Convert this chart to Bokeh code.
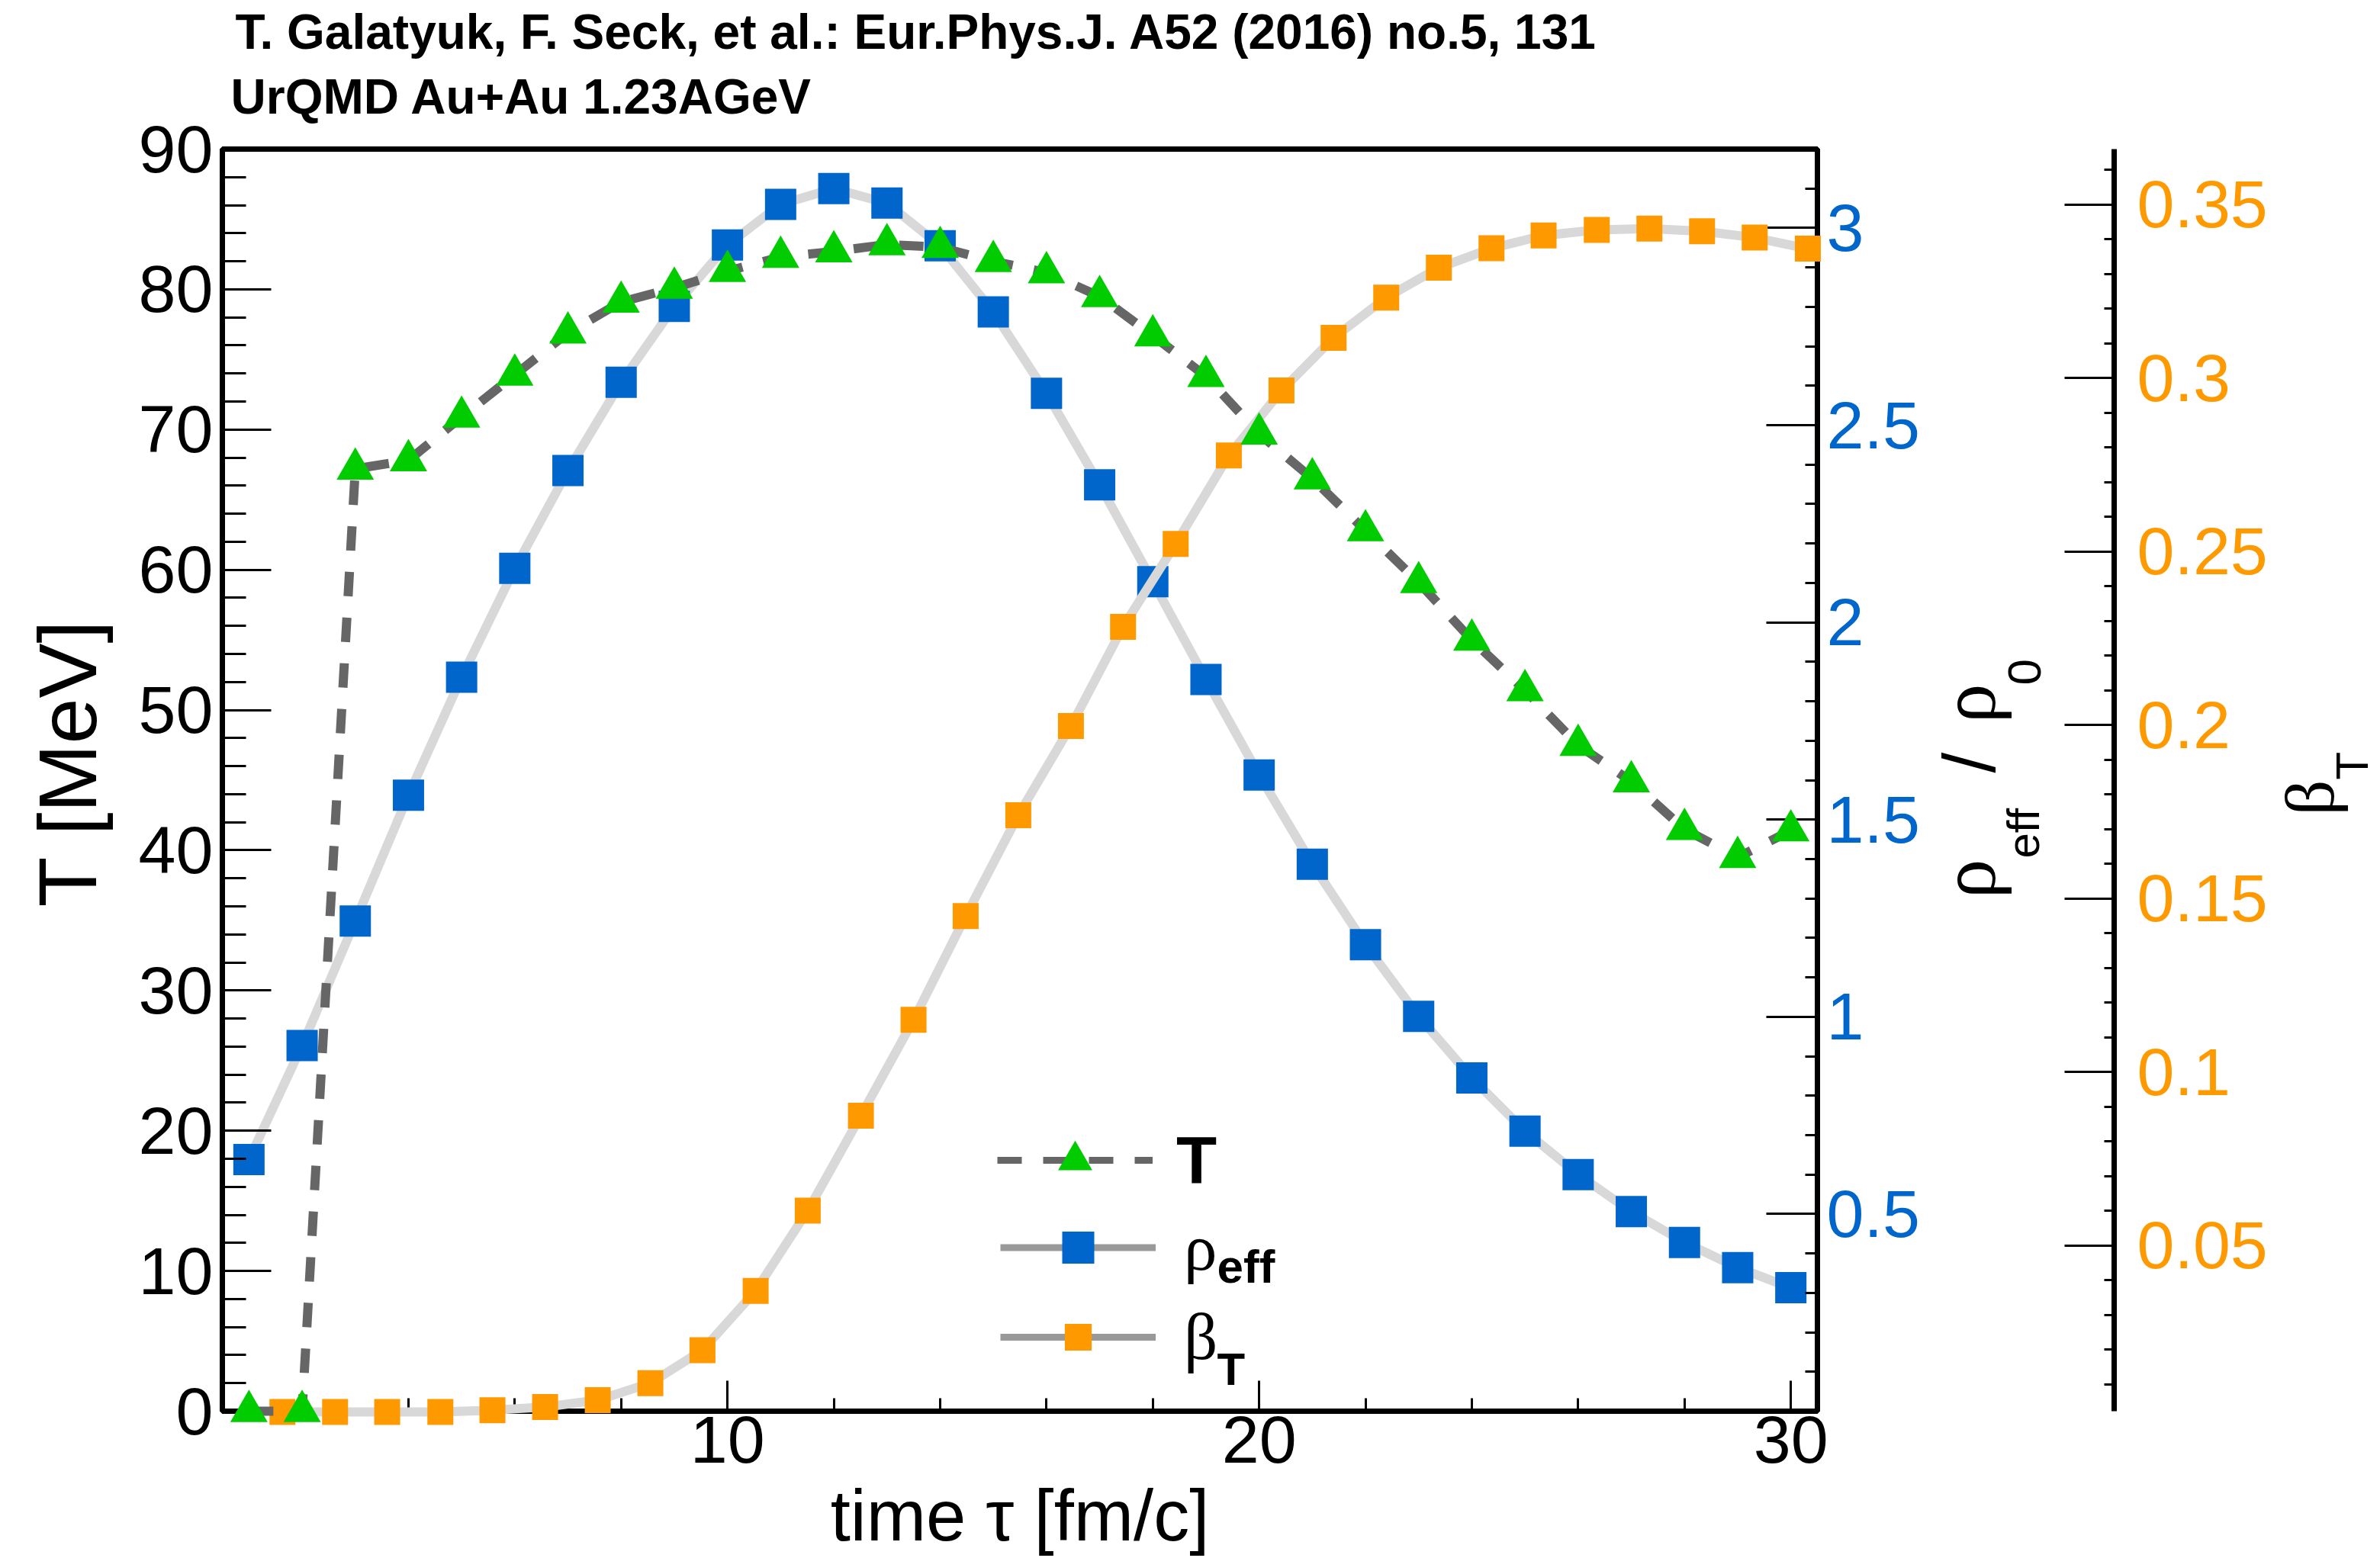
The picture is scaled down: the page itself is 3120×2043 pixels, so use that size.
from bokeh.plotting import figure
from bokeh.layouts import row, column
from bokeh.models import (Range1d, LinearAxis, FixedTicker, NumeralTickFormatter,
                          CustomJSTickFormatter, Label, Legend, LegendItem, ColumnDataSource)
from bokeh.embed import file_html
from bokeh.resources import INLINE
from math import pi

# ---------------- data ----------------
time_T = [1, 2, 3, 4, 5, 6, 7, 8, 9, 10, 11, 12, 13, 14, 15,
          16, 17, 18, 19, 20, 21, 22, 23, 24, 25, 26, 27, 28, 29, 30]
T_MeV = [0.0, 0.0, 67.2, 67.8, 70.9, 73.9, 76.9, 79.1, 80.1, 81.3, 82.3, 82.7, 83.2, 83.0, 82.0,
         81.2, 79.5, 76.7, 73.8, 69.7, 66.5, 62.8, 59.1, 55.0, 51.4, 47.5, 44.9, 41.5, 39.5, 41.4]

time_rho = [1, 2, 3, 4, 5, 6, 7, 8, 9, 10, 11, 12, 13, 14, 15,
            16, 17, 18, 19, 20, 21, 22, 23, 24, 25, 26, 27, 28, 29, 30]
rho_eff = [0.638, 0.927, 1.243, 1.562, 1.861, 2.137, 2.385, 2.609, 2.801, 2.957, 3.060, 3.100,
           3.063, 2.955, 2.787, 2.581, 2.349, 2.103, 1.855, 1.613, 1.387, 1.183, 1.001, 0.845,
           0.710, 0.600, 0.506, 0.428, 0.364, 0.313]

time_beta = [1.63, 2.62, 3.60, 4.60, 5.58, 6.57, 7.56, 8.55, 9.53, 10.53, 11.51, 12.51, 13.50,
             14.48, 15.47, 16.46, 17.44, 18.43, 19.43, 20.42, 21.40, 22.39, 23.38, 24.37, 25.35,
             26.35, 27.34, 28.33, 29.32, 30.32]
beta_T = [0.0020, 0.0020, 0.0020, 0.0020, 0.0025, 0.0034, 0.0054, 0.0103, 0.0198, 0.0369,
          0.0600, 0.0874, 0.1150, 0.1449, 0.1740, 0.1997, 0.2283, 0.2522, 0.2777, 0.2964,
          0.3116, 0.3232, 0.3318, 0.3374, 0.3411, 0.3427, 0.3431, 0.3423, 0.3405, 0.3373]

# ticks / labels
x_major = [10, 20, 30]
x_minor = [v for v in range(2, 31, 2) if v % 10]
T_major = [0, 10, 20, 30, 40, 50, 60, 70, 80, 90]
T_minor = [v for v in range(2, 90, 2) if v % 10]
rho_major = [0.5, 1.0, 1.5, 2.0, 2.5, 3.0]
rho_minor = [round(0.1 * i, 1) for i in range(1, 33) if i % 5]
beta_major = [0.05, 0.1, 0.15, 0.2, 0.25, 0.3, 0.35]
beta_minor = [round(0.01 * i, 2) for i in range(1, 37) if i % 5]

title_1 = "T. Galatyuk, F. Seck, et al.: Eur.Phys.J. A52 (2016) no.5, 131"
title_2 = "UrQMD Au+Au 1.23AGeV"
x_title = "time τ [fm/c]"
y_title = "T [MeV]"

# ---------------- style ----------------
GREEN = "#00cc00"
BLUE = "#0066cc"
ORANGE = "#ff9900"
DARK = "#666666"
LIGHT = "#d8d8d8"
MID = "#999999"
SANS = "Liberation Sans"
SERIF = "Liberation Serif"
TICKSIZE = "88px"

H = 2043
TOP_H = 175            # title strip height (right column only)
ROW_H = H - TOP_H
FR_TOP, FR_BOT = 195, 193  # frame borders in page pixels


def blank(width, height, **kw):
    f = figure(width=width, height=height, x_range=Range1d(0, 1), y_range=Range1d(0, 1),
               x_axis_location=None, y_axis_location=None, output_backend="svg",
               toolbar_location=None, title=None, **kw)
    f.grid.visible = False
    f.outline_line_color = None
    f.background_fill_color = "white"
    f.border_fill_color = "white"
    return f


def lab(fig, text, x, y, size, font=SANS, style="normal", angle=0.0, align="left"):
    # anchored at the text's vertical middle
    fig.add_layout(Label(x=x, y=y, x_units="screen", y_units="screen", text=text,
                         text_font=font, text_font_style=style, text_font_size=f"{size}px",
                         angle=angle, text_align=align, text_baseline="middle",
                         text_color="black"))


def style_axis(ax, maj_in, min_in, standoff, color="black"):
    ax.axis_line_width = 7
    ax.axis_line_color = "black"
    ax.major_tick_in = maj_in
    ax.major_tick_out = 0
    ax.minor_tick_in = min_in
    ax.minor_tick_out = 0
    ax.major_tick_line_width = 3
    ax.minor_tick_line_width = 3
    ax.major_tick_line_color = "black"
    ax.minor_tick_line_color = "black"
    ax.major_label_text_font = SANS
    ax.major_label_text_font_size = TICKSIZE
    ax.major_label_text_color = color
    ax.major_label_standoff = standoff


# ---------------- main plot ----------------
p = figure(width=2232, height=ROW_H, x_range=Range1d(0.5, 30.5), y_range=Range1d(0, 90),
           output_backend="svg", toolbar_location=None, title=None,
           min_border_left=4, min_border_right=136, min_border_top=FR_TOP - TOP_H,
           min_border_bottom=FR_BOT)
p.extra_y_ranges = {"rho": Range1d(0, 3.2), "beta": Range1d(0.0022, 0.366)}
p.grid.visible = False
p.outline_line_color = "black"
p.outline_line_width = 7
p.background_fill_color = "white"
p.border_fill_color = "white"

xa = p.xaxis[0]
xa.ticker = FixedTicker(ticks=x_major, minor_ticks=x_minor)
style_axis(xa, 40, 17, 7)
xa.axis_label = x_title
xa.axis_label_text_font = SANS
xa.axis_label_text_font_style = "normal"
xa.axis_label_text_font_size = "94px"
xa.axis_label_text_color = "black"
xa.axis_label_standoff = 14

# left axis line + ticks here; its numbers are drawn by the strip on the left
ya = p.yaxis[0]
ya.ticker = FixedTicker(ticks=T_major, minor_ticks=T_minor)
style_axis(ya, 64, 31, 0)
ya.formatter = CustomJSTickFormatter(code="return ''")

rho_axis = LinearAxis(y_range_name="rho",
                      ticker=FixedTicker(ticks=rho_major, minor_ticks=rho_minor),
                      formatter=NumeralTickFormatter(format="0.[0]"))
style_axis(rho_axis, 67, 16, 12, BLUE)
p.add_layout(rho_axis, "right")

# ---------------- data renderers ----------------
src_T = ColumnDataSource(dict(t=time_T, v=T_MeV))
src_rho = ColumnDataSource(dict(t=time_rho, v=rho_eff))
src_beta = ColumnDataSource(dict(t=time_beta, v=beta_T))

p.line("t", "v", source=src_rho, y_range_name="rho", line_color=LIGHT, line_width=12)
rho_pts = p.scatter("t", "v", source=src_rho, y_range_name="rho", marker="square",
                    size=41, fill_color=BLUE, line_color=None)
p.line("t", "v", source=src_beta, y_range_name="beta", line_color=LIGHT, line_width=12,
       level="overlay")
beta_pts = p.scatter("t", "v", source=src_beta, y_range_name="beta", marker="square",
                     size=34, fill_color=ORANGE, line_color=None, level="overlay")
p.line("t", "v", source=src_T, line_color=DARK, line_width=12, line_dash="32 28",
       level="overlay")
T_pts = p.scatter("t", "v", source=src_T, marker="triangle", size=49,
                  fill_color=GREEN, line_color=None, level="overlay")

# legend-only line styles
T_leg = p.line("t", "v", source=src_T, line_color=DARK, line_width=9, line_dash="32 28",
               visible=False)
rho_leg = p.line("t", "v", source=src_rho, y_range_name="rho", line_color=MID,
                 line_width=9, visible=False)
beta_leg = p.line("t", "v", source=src_beta, y_range_name="beta", line_color=MID,
                  line_width=9, visible=False)


def make_legend(label, renderers, loc, gh, font, style, standoff, baseline):
    return Legend(items=[LegendItem(label=label, renderers=renderers)], location=loc,
                  glyph_width=204, glyph_height=gh, label_standoff=standoff,
                  label_text_font=font, label_text_font_style=style,
                  label_text_font_size="87px", label_text_baseline=baseline,
                  label_text_color="black",
                  padding=0, margin=0, spacing=0, border_line_color=None,
                  background_fill_alpha=0, inactive_fill_alpha=0)


p.add_layout(make_legend("T", [T_leg, T_pts], (1016, 273), 112, SANS, "bold", 31, "middle"))
p.add_layout(make_legend("ρ", [rho_leg, rho_pts], (1020, 162), 105, SERIF, "normal", 37,
                         "alphabetic"))
p.add_layout(make_legend("β", [beta_leg, beta_pts], (1020, 47), 88, SERIF, "normal", 37,
                         "alphabetic"))

# legend subscripts
lab(p, "eff", 1304, 190, 62, style="bold")
lab(p, "T", 1304, 55, 60, style="bold")

# ---------------- left strips: y title and the T tick numbers ----------------
lf = blank(170, H, min_border_left=0, min_border_right=0, min_border_top=FR_TOP,
           min_border_bottom=FR_BOT)
lab(lf, y_title, 88, 850, 108, angle=pi / 2, align="center")

lp = figure(width=117, height=H, x_range=Range1d(0, 1), y_range=Range1d(0, 90),
            x_axis_location=None, y_axis_location="left", output_backend="svg",
            toolbar_location=None, title=None, min_border_left=116, min_border_right=0,
            min_border_top=FR_TOP, min_border_bottom=FR_BOT)
lp.grid.visible = False
lp.outline_line_color = None
lp.background_fill_color = "white"
lp.border_fill_color = "white"
lpa = lp.yaxis[0]
lpa.ticker = FixedTicker(ticks=T_major)
lpa.axis_line_color = None
lpa.major_tick_line_color = None
lpa.minor_tick_line_color = None
lpa.major_tick_in = 0
lpa.major_tick_out = 0
lpa.minor_tick_in = 0
lpa.minor_tick_out = 0
lpa.major_label_text_font = SANS
lpa.major_label_text_font_size = TICKSIZE
lpa.major_label_text_color = "black"
lpa.major_label_standoff = 7

# ---------------- middle strip: rho title + beta axis ----------------
q = figure(width=456, height=ROW_H, x_range=Range1d(0, 1), y_range=Range1d(0.0022, 0.366),
           x_axis_location=None, y_axis_location=None, output_backend="svg",
           toolbar_location=None, title=None, min_border_left=0, min_border_right=202,
           min_border_top=FR_TOP - TOP_H, min_border_bottom=FR_BOT)
q.grid.visible = False
q.outline_line_color = None
q.background_fill_color = "white"
q.border_fill_color = "white"
beta_axis = LinearAxis(ticker=FixedTicker(ticks=beta_major, minor_ticks=beta_minor),
                       formatter=NumeralTickFormatter(format="0.[00]"))
style_axis(beta_axis, 65, 13, 30, ORANGE)
q.add_layout(beta_axis, "right")

lab(q, "ρ", 60, 672, 104, font=SERIF, angle=pi / 2)
lab(q, "eff", 133, 725, 60, angle=pi / 2)
lab(q, "/", 62, 837, 96, angle=pi / 2)
lab(q, "ρ", 60, 902, 104, font=SERIF, angle=pi / 2)
lab(q, "0", 134, 952, 62, angle=pi / 2)

# ---------------- right strip: beta title ----------------
r = blank(145, ROW_H, min_border_left=0, min_border_right=0,
          min_border_top=FR_TOP - TOP_H, min_border_bottom=FR_BOT)
lab(r, "β", 52, 781, 92, font=SERIF, angle=pi / 2)
lab(r, "T", 108, 828, 60, angle=pi / 2)

# ---------------- title strip ----------------
t = blank(2833, TOP_H, min_border_left=0, min_border_right=0, min_border_top=0,
          min_border_bottom=0)
lab(t, title_1, 21, 134, 64, style="bold")
lab(t, title_2, 15, 49, 64, style="bold")

layout = row(row(lf, lp), column(t, row(p, q, r)))
open("out.html", "w").write(file_html(layout, INLINE))
